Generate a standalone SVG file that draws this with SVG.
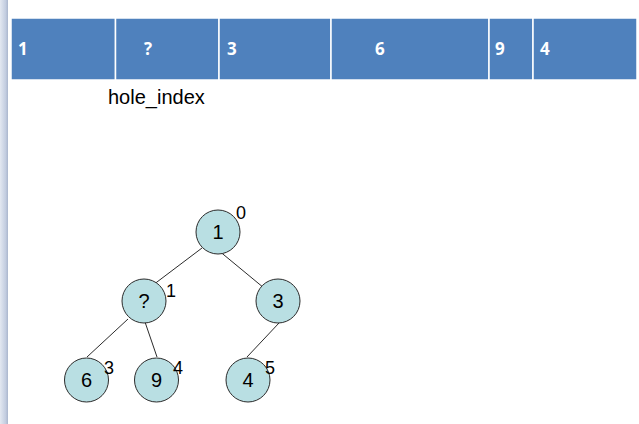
<svg xmlns="http://www.w3.org/2000/svg" width="639" height="424" viewBox="0 0 639 424">
  <defs>
    <linearGradient id="edge" x1="0" y1="0" x2="1" y2="0">
      <stop offset="0" stop-color="#e3e8f1"/>
      <stop offset="0.7" stop-color="#c3cde0"/>
      <stop offset="1" stop-color="#aab6cd"/>
    </linearGradient>
  </defs>
  <style>
    .cell { fill: #4f81bd; stroke: #ffffff; stroke-width: 1.5; }
    .ct { font-family: "Open Sans", Lato, sans-serif; font-weight: bold; font-size: 17px; fill: #ffffff; }
    .node { fill: #b9dfe3; stroke: #2b2b2b; stroke-width: 1; }
    .nt { font-family: "Liberation Sans", Arial, sans-serif; font-size: 20px; fill: #000000; text-anchor: middle; }
    .idx { font-family: "Liberation Sans", Arial, sans-serif; font-size: 18px; fill: #000000; }
    .edge { stroke: #2b2b2b; stroke-width: 1; fill: none; }
    .lbl { font-family: "Liberation Sans", Arial, sans-serif; font-size: 20px; fill: #000000; }
  </style>
  <rect x="0" y="0" width="639" height="424" fill="#ffffff"/>
  <rect x="0" y="0" width="8" height="424" fill="url(#edge)"/>

  <g id="array">
    <rect class="cell" x="11" y="18" width="104.5" height="62"/>
    <rect class="cell" x="115.5" y="18" width="103.5" height="62"/>
    <rect class="cell" x="219" y="18" width="112" height="62"/>
    <rect class="cell" x="331" y="18" width="158" height="62"/>
    <rect class="cell" x="489" y="18" width="44" height="62"/>
    <rect class="cell" x="533" y="18" width="104" height="62"/>
    <text class="ct" x="18" y="55">1</text>
    <text class="ct" x="144" y="55">?</text>
    <text class="ct" x="227" y="55">3</text>
    <text class="ct" x="375" y="55">6</text>
    <text class="ct" x="495" y="55">9</text>
    <text class="ct" x="540" y="55">4</text>
  </g>

  <g id="hole-label">
    <text class="lbl" x="108" y="104">hole_index</text>
  </g>

  <g id="connectors">
    <line class="edge" x1="202" y1="248" x2="153" y2="285"/>
    <line class="edge" x1="218" y1="250" x2="264" y2="288"/>
    <line class="edge" x1="128" y1="319" x2="87" y2="357"/>
    <line class="edge" x1="145" y1="322" x2="157" y2="357"/>
    <line class="edge" x1="279" y1="323" x2="247" y2="357"/>
  </g>

  <g id="n0">
    <circle class="node" cx="218" cy="232" r="22"/>
    <text class="nt" x="218" y="239">1</text>
    <text class="idx" x="236" y="219">0</text>
  </g>
  <g id="n1">
    <circle class="node" cx="144" cy="301" r="22"/>
    <text class="nt" x="144" y="308">?</text>
    <text class="idx" x="166" y="297">1</text>
  </g>
  <g id="n2">
    <circle class="node" cx="278" cy="301" r="22"/>
    <text class="nt" x="278" y="308">3</text>
  </g>
  <g id="n3">
    <circle class="node" cx="86.5" cy="380" r="22"/>
    <text class="nt" x="86.5" y="387">6</text>
    <text class="idx" x="104" y="374">3</text>
  </g>
  <g id="n4">
    <circle class="node" cx="156.5" cy="380" r="22"/>
    <text class="nt" x="156.5" y="387">9</text>
    <text class="idx" x="173" y="374">4</text>
  </g>
  <g id="n5">
    <circle class="node" cx="248" cy="380" r="22"/>
    <text class="nt" x="248" y="387">4</text>
    <text class="idx" x="265" y="374">5</text>
  </g>
</svg>
